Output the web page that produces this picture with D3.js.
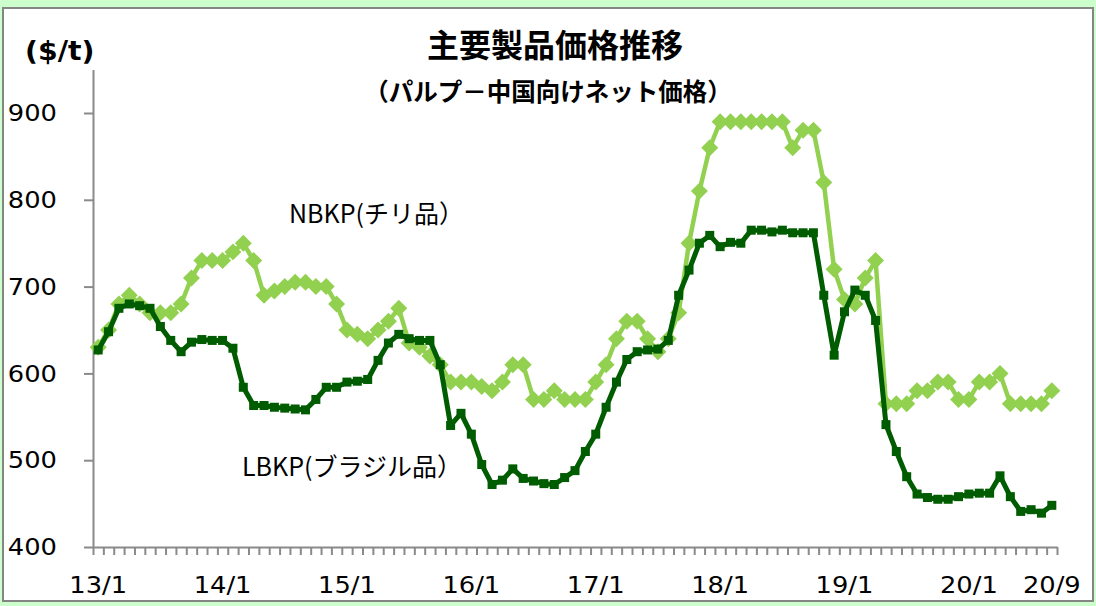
<!DOCTYPE html>
<html>
<head>
<meta charset="utf-8">
<script src="https://cdn.jsdelivr.net/npm/d3@7"></script>
<style>
  body { margin: 0; background: #ccffcc; }
  svg { display: block; }
</style>
</head>
<body>
<svg id="chart" width="1096" height="606"></svg>
<script>
// monthly, 2013/1 .. 2020/9
var years = ["13", "14", "15", "16", "17", "18", "19", "20"];
var tickLabels = ["13/1", "14/1", "15/1", "16/1", "17/1", "18/1", "19/1", "20/1", "20/9"];
var yTicks = [400, 500, 600, 700, 800, 900];

var nbkp = [630, 650, 680, 690, 680, 670, 670, 670, 680, 710, 730, 730,
            730, 740, 750, 730, 690, 695, 700, 705, 705, 700, 700, 680,
            650, 645, 640, 650, 660, 675, 635, 630, 620, 610, 590, 590,
            590, 585, 580, 590, 610, 610, 570, 570, 580, 570, 570, 570,
            590, 610, 640, 660, 660, 640, 625, 640, 670, 750, 810, 860,
            890, 890, 890, 890, 890, 890, 890, 860, 880, 880, 820, 720,
            685, 680, 710, 730, 565, 565, 565, 580, 580, 590, 590, 570,
            570, 590, 590, 600, 565, 565, 565, 565, 580];

var lbkp = [627, 648, 675, 680, 678, 675, 654, 638, 625, 636, 639, 638,
            638, 629, 584, 563, 563, 561, 560, 559, 558, 570, 584, 584,
            590, 591, 593, 615, 635, 645, 640, 638, 638, 610, 540, 554,
            530, 495, 472, 477, 490, 479, 476, 473, 472, 480, 488, 510,
            530, 561, 590, 616, 625, 627, 628, 638, 690, 719, 750, 759,
            746, 751, 750, 765, 765, 763, 765, 762, 762, 762, 690, 621,
            671, 696, 690, 661, 541, 510, 481, 461, 457, 455, 455, 458,
            461, 462, 462, 482, 458, 441, 443, 439, 448];

var months = [];
years.forEach(function (yy) {
    for (var m = 1; m <= 12; m++) {
        if (yy === "20" && m > 9) break;
        months.push(yy + "/" + m);
    }
});

var svg = d3.select("#chart");
var numFont = "DejaVu Sans, Verdana, sans-serif";
var jpFont = "Noto Sans CJK JP";

// white panel with grey border
svg.append("rect")
    .attr("x", 3).attr("y", 8)
    .attr("width", 1090).attr("height", 593)
    .attr("fill", "#fff")
    .attr("stroke", "#858585")
    .attr("stroke-width", 2);

var x = d3.scaleLinear().domain([0, months.length]).range([93, 1057]);
var y = d3.scaleLinear().domain([400, 950]).range([547, 69.6]);

function cx(d, i) { return x(i + 0.5); }

// y axis (labels drawn separately, slightly widened like the original)
svg.append("g")
    .attr("transform", "translate(93,0)")
    .call(d3.axisLeft(y).tickValues(yTicks).tickSize(9).tickSizeOuter(0).tickFormat(""));

svg.append("g")
    .selectAll("text")
    .data(yTicks)
    .enter().append("text")
    .attr("transform", function (d) { return "translate(57," + y(d) + ") scale(1.12,1)"; })
    .attr("dy", "0.36em")
    .attr("text-anchor", "end")
    .attr("font-family", numFont)
    .attr("font-size", 23)
    .text(function (d) { return d; });

// x axis: a tick at every month boundary
svg.append("g")
    .attr("transform", "translate(0,547)")
    .call(d3.axisBottom(x).tickValues(d3.range(0, months.length + 1)).tickSize(8).tickSizeOuter(0).tickFormat(""));

svg.selectAll(".domain, .tick line")
    .attr("stroke", "#8a8a8a")
    .attr("stroke-width", 2);

svg.append("g")
    .selectAll("text")
    .data(tickLabels)
    .enter().append("text")
    .attr("transform", function (d) { return "translate(" + x(months.indexOf(d) + 0.5) + ",593) scale(1.12,1)"; })
    .attr("text-anchor", "middle")
    .attr("font-family", numFont)
    .attr("font-size", 23)
    .text(function (d) { return d; });

var line = d3.line()
    .x(cx)
    .y(function (d) { return y(d); });

// NBKP
svg.append("path")
    .datum(nbkp)
    .attr("d", line)
    .attr("fill", "none")
    .attr("stroke", "#92d050")
    .attr("stroke-width", 4.5)
    .attr("stroke-linejoin", "round");

svg.append("g")
    .selectAll("rect")
    .data(nbkp)
    .enter().append("rect")
    .attr("x", -6).attr("y", -6)
    .attr("width", 12).attr("height", 12)
    .attr("fill", "#92d050")
    .attr("transform", function (d, i) { return "translate(" + cx(d, i) + "," + y(d) + ") rotate(45)"; });

// LBKP
svg.append("path")
    .datum(lbkp)
    .attr("d", line)
    .attr("fill", "none")
    .attr("stroke", "#005c00")
    .attr("stroke-width", 5)
    .attr("stroke-linejoin", "round");

svg.append("g")
    .selectAll("rect")
    .data(lbkp)
    .enter().append("rect")
    .attr("x", function (d, i) { return cx(d, i) - 4.5; })
    .attr("y", function (d) { return y(d) - 4.5; })
    .attr("width", 9).attr("height", 9)
    .attr("fill", "#005c00");

// titles
svg.append("text")
    .attr("x", 555).attr("y", 57)
    .attr("text-anchor", "middle")
    .attr("font-family", jpFont)
    .attr("font-weight", "bold")
    .attr("font-size", 32)
    .text("主要製品価格推移");

svg.append("text")
    .attr("x", 548).attr("y", 101)
    .attr("text-anchor", "middle")
    .attr("font-family", jpFont)
    .attr("font-weight", "bold")
    .attr("font-size", 24.5)
    .text("（パルプ－中国向けネット価格）");

svg.append("text")
    .attr("transform", "translate(25,60) scale(1.05,1)")
    .attr("font-family", numFont)
    .attr("font-weight", "bold")
    .attr("font-size", 27)
    .text("($/t)");

// series labels
svg.append("text")
    .attr("x", 289).attr("y", 223)
    .attr("font-family", jpFont)
    .attr("font-size", 25)
    .text("NBKP(チリ品）");

svg.append("text")
    .attr("x", 242).attr("y", 476)
    .attr("font-family", jpFont)
    .attr("font-size", 25)
    .text("LBKP(ブラジル品）");
</script>
</body>
</html>
